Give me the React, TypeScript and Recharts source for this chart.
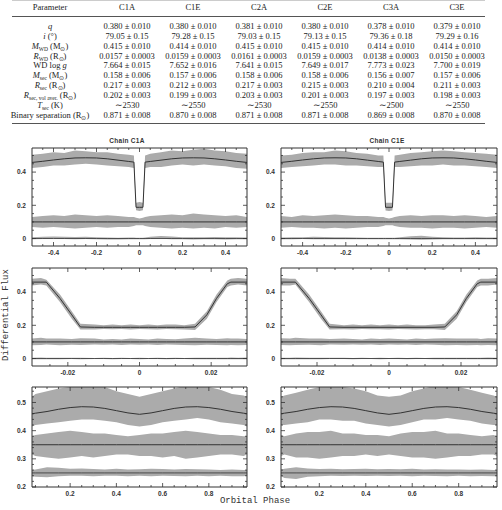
import { ComposedChart, Area, Line, XAxis, YAxis } from 'recharts';

// ---- table ----
const TABLE_HEAD = ['Parameter', 'C1A', 'C1E', 'C2A', 'C2E', 'C3A', 'C3E'];
const TABLE_VALUES = [
  ['0.380 ± 0.010', '0.380 ± 0.010', '0.381 ± 0.010', '0.380 ± 0.010', '0.378 ± 0.010', '0.379 ± 0.010'],
  ['79.05 ± 0.15', '79.28 ± 0.15', '79.03 ± 0.15', '79.13 ± 0.15', '79.36 ± 0.18', '79.29 ± 0.16'],
  ['0.415 ± 0.010', '0.414 ± 0.010', '0.415 ± 0.010', '0.415 ± 0.010', '0.414 ± 0.010', '0.414 ± 0.010'],
  ['0.0157 ± 0.0003', '0.0159 ± 0.0003', '0.0161 ± 0.0003', '0.0159 ± 0.0003', '0.0138 ± 0.0003', '0.0150 ± 0.0003'],
  ['7.664 ± 0.015', '7.652 ± 0.016', '7.641 ± 0.015', '7.649 ± 0.017', '7.773 ± 0.023', '7.700 ± 0.019'],
  ['0.158 ± 0.006', '0.157 ± 0.006', '0.158 ± 0.006', '0.158 ± 0.006', '0.156 ± 0.007', '0.157 ± 0.006'],
  ['0.217 ± 0.003', '0.212 ± 0.003', '0.217 ± 0.003', '0.215 ± 0.003', '0.210 ± 0.004', '0.211 ± 0.003'],
  ['0.202 ± 0.003', '0.199 ± 0.003', '0.203 ± 0.003', '0.201 ± 0.003', '0.197 ± 0.003', '0.198 ± 0.003'],
  ['∼2530', '∼2550', '∼2530', '∼2550', '∼2500', '∼2550'],
  ['0.871 ± 0.008', '0.870 ± 0.008', '0.871 ± 0.008', '0.871 ± 0.008', '0.869 ± 0.008', '0.870 ± 0.008'],
];

// ---- full orbit panels (C1A / C1E) ----
const P1_PHASE = [-0.5, -0.45, -0.4, -0.35, -0.3, -0.25, -0.2, -0.15, -0.1, -0.05, -0.026, -0.016, 0, 0.016, 0.026, 0.05, 0.1, 0.15, 0.2, 0.25, 0.3, 0.35, 0.4, 0.45, 0.5];
const P1_MODEL = [0.458, 0.465, 0.473, 0.48, 0.485, 0.486, 0.485, 0.48, 0.472, 0.464, 0.46, 0.188, 0.188, 0.188, 0.46, 0.464, 0.472, 0.48, 0.485, 0.486, 0.485, 0.48, 0.473, 0.465, 0.458];
const P1A_TOP_HI = [0.505, 0.51, 0.52, 0.515, 0.53, 0.525, 0.52, 0.52, 0.51, 0.505, 0.5, 0.215, 0.22, 0.215, 0.5, 0.51, 0.52, 0.53, 0.525, 0.535, 0.54, 0.53, 0.525, 0.515, 0.51];
const P1A_TOP_LO = [0.425, 0.43, 0.44, 0.44, 0.445, 0.45, 0.445, 0.44, 0.435, 0.43, 0.425, 0.17, 0.165, 0.17, 0.425, 0.43, 0.43, 0.44, 0.445, 0.44, 0.445, 0.44, 0.435, 0.425, 0.42];
const P1A_MID_HI = [0.13, 0.135, 0.14, 0.135, 0.145, 0.14, 0.135, 0.14, 0.135, 0.13, 0.13, 0.125, 0.12, 0.125, 0.13, 0.135, 0.14, 0.145, 0.14, 0.15, 0.145, 0.14, 0.135, 0.14, 0.13];
const P1A_MID_LO = [0.07, 0.065, 0.07, 0.065, 0.06, 0.065, 0.07, 0.065, 0.07, 0.07, 0.075, 0.08, 0.08, 0.08, 0.075, 0.07, 0.065, 0.06, 0.065, 0.06, 0.065, 0.06, 0.07, 0.065, 0.07];
const P1A_RES_HI = [0.008, 0.01, 0.012, 0.01, 0.009, 0.01, 0.008, 0.006, 0.005, 0.006, 0.006, 0.004, 0.004, 0.004, 0.006, 0.01, 0.015, 0.012, 0.008, 0.007, 0.008, 0.009, 0.008, 0.007, 0.006];
const P1A_RES_LO = [-0.004, -0.003, -0.002, -0.003, -0.004, -0.003, -0.005, -0.006, -0.006, -0.005, -0.005, -0.004, -0.004, -0.004, -0.005, -0.003, -0.002, -0.004, -0.005, -0.006, -0.005, -0.005, -0.006, -0.005, -0.005];
const P1E_TOP_HI = [0.5, 0.505, 0.515, 0.52, 0.52, 0.53, 0.525, 0.515, 0.51, 0.5, 0.5, 0.215, 0.215, 0.215, 0.5, 0.505, 0.515, 0.52, 0.525, 0.53, 0.525, 0.52, 0.515, 0.51, 0.505];
const P1E_TOP_LO = [0.425, 0.43, 0.435, 0.44, 0.445, 0.445, 0.44, 0.44, 0.435, 0.43, 0.43, 0.168, 0.165, 0.168, 0.43, 0.43, 0.435, 0.44, 0.44, 0.445, 0.44, 0.44, 0.435, 0.43, 0.425];
const P1E_MID_HI = [0.135, 0.13, 0.14, 0.135, 0.14, 0.145, 0.14, 0.135, 0.135, 0.13, 0.13, 0.125, 0.12, 0.125, 0.13, 0.135, 0.14, 0.135, 0.14, 0.14, 0.135, 0.14, 0.135, 0.13, 0.135];
const P1E_MID_LO = [0.065, 0.07, 0.065, 0.065, 0.06, 0.065, 0.06, 0.065, 0.07, 0.07, 0.075, 0.08, 0.08, 0.08, 0.075, 0.07, 0.065, 0.065, 0.06, 0.065, 0.065, 0.06, 0.065, 0.07, 0.065];
const P1E_RES_HI = [0.006, 0.007, 0.008, 0.01, 0.009, 0.008, 0.007, 0.006, 0.005, 0.005, 0.005, 0.004, 0.004, 0.004, 0.005, 0.008, 0.014, 0.016, 0.01, 0.007, 0.006, 0.006, 0.007, 0.006, 0.006];
const P1E_RES_LO = [-0.004, -0.004, -0.003, -0.004, -0.004, -0.004, -0.005, -0.005, -0.005, -0.005, -0.005, -0.004, -0.004, -0.004, -0.005, -0.004, -0.006, -0.008, -0.006, -0.005, -0.005, -0.005, -0.005, -0.004, -0.005];

// ---- eclipse zoom panels ----
const P2_PHASE = [-0.03, -0.0275, -0.026, -0.0222, -0.0189, -0.0165, -0.0125, -0.01, -0.0075, -0.005, -0.0025, 0, 0.0025, 0.005, 0.0075, 0.01, 0.0125, 0.0155, 0.0188, 0.0215, 0.0245, 0.0255, 0.0275, 0.03];
const P2_MODEL = [0.46, 0.46, 0.46, 0.362, 0.263, 0.19, 0.188, 0.188, 0.188, 0.188, 0.188, 0.188, 0.188, 0.188, 0.188, 0.188, 0.188, 0.19, 0.263, 0.362, 0.45, 0.46, 0.46, 0.46];
const P2A_TOP_HI = [0.48, 0.485, 0.475, 0.385, 0.285, 0.21, 0.205, 0.2, 0.205, 0.2, 0.205, 0.2, 0.205, 0.2, 0.205, 0.205, 0.2, 0.21, 0.285, 0.385, 0.47, 0.48, 0.485, 0.48];
const P2A_TOP_LO = [0.44, 0.445, 0.44, 0.34, 0.24, 0.175, 0.175, 0.178, 0.176, 0.178, 0.175, 0.178, 0.176, 0.175, 0.178, 0.176, 0.175, 0.172, 0.24, 0.34, 0.43, 0.44, 0.445, 0.44];
const P2A_MID_HI = [0.12, 0.125, 0.12, 0.12, 0.118, 0.122, 0.12, 0.115, 0.118, 0.115, 0.12, 0.117, 0.115, 0.12, 0.118, 0.116, 0.12, 0.125, 0.12, 0.118, 0.122, 0.12, 0.12, 0.118];
const P2A_MID_LO = [0.08, 0.082, 0.085, 0.08, 0.083, 0.082, 0.085, 0.083, 0.085, 0.082, 0.085, 0.083, 0.085, 0.082, 0.084, 0.083, 0.082, 0.08, 0.083, 0.082, 0.08, 0.082, 0.08, 0.082];
const P2A_RES_HI = [0.005, 0.006, 0.005, 0.004, 0.005, 0.004, 0.003, 0.004, 0.003, 0.004, 0.003, 0.004, 0.003, 0.004, 0.003, 0.004, 0.003, 0.004, 0.005, 0.004, 0.005, 0.006, 0.005, 0.006];
const P2A_RES_LO = [-0.004, -0.005, -0.004, -0.004, -0.003, -0.004, -0.003, -0.003, -0.004, -0.003, -0.003, -0.004, -0.003, -0.003, -0.004, -0.003, -0.003, -0.004, -0.004, -0.005, -0.004, -0.005, -0.004, -0.005];
const P2E_TOP_HI = [0.485, 0.48, 0.48, 0.385, 0.285, 0.21, 0.2, 0.205, 0.2, 0.205, 0.2, 0.205, 0.2, 0.205, 0.2, 0.2, 0.205, 0.21, 0.285, 0.385, 0.47, 0.48, 0.48, 0.485];
const P2E_TOP_LO = [0.44, 0.44, 0.445, 0.34, 0.24, 0.175, 0.177, 0.175, 0.178, 0.176, 0.177, 0.175, 0.178, 0.176, 0.175, 0.177, 0.176, 0.172, 0.24, 0.34, 0.43, 0.44, 0.44, 0.445];
const P2E_MID_HI = [0.122, 0.12, 0.125, 0.12, 0.12, 0.118, 0.12, 0.118, 0.115, 0.12, 0.117, 0.12, 0.118, 0.115, 0.12, 0.118, 0.12, 0.122, 0.12, 0.12, 0.12, 0.118, 0.122, 0.12];
const P2E_MID_LO = [0.082, 0.08, 0.082, 0.083, 0.08, 0.084, 0.083, 0.085, 0.083, 0.084, 0.082, 0.085, 0.083, 0.084, 0.082, 0.085, 0.083, 0.08, 0.082, 0.08, 0.082, 0.08, 0.082, 0.08];
const P2E_RES_HI = [0.005, 0.005, 0.006, 0.004, 0.005, 0.004, 0.004, 0.003, 0.004, 0.003, 0.004, 0.003, 0.004, 0.003, 0.004, 0.003, 0.004, 0.004, 0.005, 0.005, 0.005, 0.005, 0.006, 0.005];
const P2E_RES_LO = [-0.005, -0.004, -0.004, -0.004, -0.004, -0.003, -0.003, -0.004, -0.003, -0.003, -0.004, -0.003, -0.003, -0.004, -0.003, -0.003, -0.004, -0.004, -0.004, -0.004, -0.005, -0.004, -0.005, -0.004];

// ---- out-of-eclipse panels ----
const P3_PHASE = [0.035, 0.05, 0.1, 0.15, 0.2, 0.25, 0.3, 0.35, 0.4, 0.45, 0.5, 0.55, 0.6, 0.65, 0.7, 0.75, 0.8, 0.85, 0.9, 0.95, 0.965];
const P3_MODEL = [0.46, 0.462, 0.468, 0.476, 0.482, 0.485, 0.484, 0.479, 0.471, 0.463, 0.458, 0.463, 0.471, 0.479, 0.484, 0.485, 0.482, 0.476, 0.468, 0.462, 0.46];
const P3A_TOP_HI = [0.52, 0.53, 0.54, 0.55, 0.555, 0.56, 0.56, 0.555, 0.54, 0.53, 0.52, 0.53, 0.54, 0.55, 0.56, 0.56, 0.555, 0.545, 0.53, 0.525, 0.52];
const P3A_TOP_LO = [0.415, 0.42, 0.425, 0.43, 0.435, 0.44, 0.44, 0.435, 0.43, 0.42, 0.415, 0.42, 0.43, 0.435, 0.44, 0.445, 0.44, 0.43, 0.425, 0.42, 0.415];
const P3A_MID_HI = [0.38, 0.385, 0.39, 0.395, 0.4, 0.395, 0.39, 0.39, 0.385, 0.38, 0.385, 0.39, 0.39, 0.395, 0.4, 0.395, 0.39, 0.385, 0.385, 0.38, 0.38];
const P3A_MID_LO = [0.315, 0.31, 0.305, 0.3, 0.305, 0.31, 0.305, 0.31, 0.315, 0.315, 0.31, 0.31, 0.305, 0.31, 0.3, 0.305, 0.31, 0.315, 0.315, 0.31, 0.315];
const P3A_RES_HI = [0.26, 0.262, 0.27, 0.268, 0.265, 0.266, 0.264, 0.262, 0.265, 0.262, 0.263, 0.265, 0.264, 0.262, 0.264, 0.263, 0.262, 0.26, 0.262, 0.26, 0.26];
const P3A_RES_LO = [0.238, 0.236, 0.235, 0.238, 0.24, 0.24, 0.238, 0.24, 0.24, 0.238, 0.24, 0.238, 0.24, 0.239, 0.238, 0.24, 0.238, 0.24, 0.238, 0.238, 0.24];
const P3E_TOP_HI = [0.52, 0.525, 0.535, 0.545, 0.555, 0.56, 0.555, 0.55, 0.54, 0.525, 0.52, 0.525, 0.54, 0.55, 0.56, 0.56, 0.555, 0.545, 0.535, 0.525, 0.52];
const P3E_TOP_LO = [0.42, 0.42, 0.425, 0.43, 0.44, 0.44, 0.435, 0.435, 0.425, 0.42, 0.415, 0.42, 0.43, 0.44, 0.44, 0.445, 0.44, 0.435, 0.425, 0.42, 0.42];
const P3E_MID_HI = [0.385, 0.38, 0.39, 0.395, 0.395, 0.4, 0.39, 0.39, 0.385, 0.385, 0.38, 0.39, 0.395, 0.395, 0.4, 0.39, 0.39, 0.385, 0.38, 0.385, 0.38];
const P3E_MID_LO = [0.31, 0.315, 0.305, 0.305, 0.3, 0.305, 0.31, 0.31, 0.315, 0.31, 0.315, 0.31, 0.305, 0.305, 0.3, 0.305, 0.31, 0.31, 0.315, 0.315, 0.31];
const P3E_RES_HI = [0.262, 0.265, 0.27, 0.266, 0.264, 0.265, 0.263, 0.264, 0.265, 0.263, 0.264, 0.263, 0.265, 0.262, 0.263, 0.262, 0.262, 0.261, 0.262, 0.26, 0.26];
const P3E_RES_LO = [0.238, 0.232, 0.228, 0.236, 0.238, 0.24, 0.239, 0.24, 0.239, 0.24, 0.239, 0.24, 0.238, 0.24, 0.239, 0.238, 0.24, 0.238, 0.239, 0.238, 0.238];

// offsets of the residual tracks
const P12_MID_LEVEL = 0.1;
const P12_RES_LEVEL = 0;
const P3_MID_LEVEL = 0.35;
const P3_RES_LEVEL = 0.25;

// ticks
const P1_XTICKS = [-0.45, -0.4, -0.35, -0.3, -0.25, -0.2, -0.15, -0.1, -0.05, 0, 0.05, 0.1, 0.15, 0.2, 0.25, 0.3, 0.35, 0.4, 0.45];
const P1_XMAJOR = [-0.4, -0.2, 0, 0.2, 0.4];
const P2_XTICKS = [-0.025, -0.02, -0.015, -0.01, -0.005, 0, 0.005, 0.01, 0.015, 0.02, 0.025];
const P2_XMAJOR = [-0.02, 0, 0.02];
const P3_XTICKS = [0.05, 0.1, 0.15, 0.2, 0.25, 0.3, 0.35, 0.4, 0.45, 0.5, 0.55, 0.6, 0.65, 0.7, 0.75, 0.8, 0.85, 0.9, 0.95];
const P3_XMAJOR = [0.2, 0.4, 0.6, 0.8];
const P12_YTICKS = [0, 0.05, 0.1, 0.15, 0.2, 0.25, 0.3, 0.35, 0.4, 0.45, 0.5];
const P12_YMAJOR = [0, 0.2, 0.4];
const P3_YTICKS = [0.2, 0.22, 0.24, 0.26, 0.28, 0.3, 0.32, 0.34, 0.36, 0.38, 0.4, 0.42, 0.44, 0.46, 0.48, 0.5, 0.52, 0.54];
const P3_YMAJOR = [0.2, 0.3, 0.4, 0.5];

const INK = '#333';
const GREY = '#ababab';
const TICK_FONT = "'Liberation Sans', Arial, sans-serif";

function buildRows(phase, model, topHi, topLo, midLevel, midHi, midLo, resLevel, resHi, resLo) {
  return phase.map((x, i) => ({
    x,
    model: model[i],
    topBand: [topLo[i], topHi[i]],
    mid: midLevel,
    midBand: [midLo[i], midHi[i]],
    res: resLevel,
    resBand: [resLo[i], resHi[i]],
  }));
}

// ticks point inwards; labels only on the bottom / left axes
function makeTick(side, majors) {
  return (props) => {
    const { x, y, payload } = props;
    const v = payload.value;
    const major = majors.some((m) => Math.abs(m - v) < 1e-9);
    const len = major ? 4 : 2;
    let line = null;
    let label = null;
    if (side === 'bottom') {
      line = <line x1={x} y1={y} x2={x} y2={y - len} stroke={INK} strokeWidth={0.8} />;
      if (major) label = <text x={x} y={y + 9} textAnchor="middle" fontSize={6.5} fontWeight="bold" fill={INK} fontFamily={TICK_FONT}>{String(v)}</text>;
    } else if (side === 'top') {
      line = <line x1={x} y1={y} x2={x} y2={y + len} stroke={INK} strokeWidth={0.8} />;
    } else if (side === 'left') {
      line = <line x1={x} y1={y} x2={x + len} y2={y} stroke={INK} strokeWidth={0.8} />;
      if (major) label = <text x={x - 6} y={y + 2.3} textAnchor="end" fontSize={6.5} fontWeight="bold" fill={INK} fontFamily={TICK_FONT}>{String(v)}</text>;
    } else {
      line = <line x1={x} y1={y} x2={x - len} y2={y} stroke={INK} strokeWidth={0.8} />;
    }
    return <g>{line}{label}</g>;
  };
}

function Panel({ rows, width, height, margin, xDomain, xTicks, xMajor, yDomain, yTicks, yMajor }) {
  const axisLine = { stroke: INK, strokeWidth: 1 };
  return (
    <ComposedChart width={width} height={height} data={rows} margin={margin}>
      <XAxis xAxisId="b" dataKey="x" type="number" domain={xDomain} ticks={xTicks} interval={0} height={1}
        tickSize={0} tickMargin={0} tickLine={false} axisLine={axisLine} tick={makeTick('bottom', xMajor)} allowDataOverflow />
      <XAxis xAxisId="t" orientation="top" dataKey="x" type="number" domain={xDomain} ticks={xTicks} interval={0} height={1}
        tickSize={0} tickMargin={0} tickLine={false} axisLine={axisLine} tick={makeTick('top', xMajor)} allowDataOverflow />
      <YAxis yAxisId="l" type="number" domain={yDomain} ticks={yTicks} interval={0} width={1}
        tickSize={0} tickMargin={0} tickLine={false} axisLine={axisLine} tick={makeTick('left', yMajor)} allowDataOverflow />
      <YAxis yAxisId="r" orientation="right" type="number" domain={yDomain} ticks={yTicks} interval={0} width={1}
        tickSize={0} tickMargin={0} tickLine={false} axisLine={axisLine} tick={makeTick('right', yMajor)} allowDataOverflow />
      <Area xAxisId="b" yAxisId="l" type="linear" dataKey="topBand" fill={GREY} fillOpacity={1} stroke="none" isAnimationActive={false} />
      <Area xAxisId="b" yAxisId="l" type="linear" dataKey="midBand" fill={GREY} fillOpacity={1} stroke="none" isAnimationActive={false} />
      <Area xAxisId="b" yAxisId="l" type="linear" dataKey="resBand" fill={GREY} fillOpacity={1} stroke="none" isAnimationActive={false} />
      <Line xAxisId="b" yAxisId="l" type="linear" dataKey="model" stroke={INK} strokeWidth={1} dot={false} activeDot={false} isAnimationActive={false} />
      <Line xAxisId="b" yAxisId="l" type="linear" dataKey="mid" stroke={INK} strokeWidth={1} dot={false} activeDot={false} isAnimationActive={false} />
      <Line xAxisId="b" yAxisId="l" type="linear" dataKey="res" stroke={INK} strokeWidth={0.8} dot={false} activeDot={false} isAnimationActive={false} />
    </ComposedChart>
  );
}

// margins already leave 1px for each axis box
const LEFT = { left: 0, width: 260, ml: 31, mr: 12 };
const RIGHT = { left: 250, width: 252, ml: 30, mr: 4 };
const ROWS = [
  { top: 140, height: 120, mt: 7, mb: 13 },
  { top: 262, height: 118, mt: 5, mb: 13 },
  { top: 381, height: 120, mt: 5, mb: 13 },
];

const PANELS = [
  { col: LEFT, row: 0, rows: buildRows(P1_PHASE, P1_MODEL, P1A_TOP_HI, P1A_TOP_LO, P12_MID_LEVEL, P1A_MID_HI, P1A_MID_LO, P12_RES_LEVEL, P1A_RES_HI, P1A_RES_LO), xDomain: [-0.5, 0.5], xTicks: P1_XTICKS, xMajor: P1_XMAJOR, yDomain: [-0.045, 0.545], yTicks: P12_YTICKS, yMajor: P12_YMAJOR },
  { col: RIGHT, row: 0, rows: buildRows(P1_PHASE, P1_MODEL, P1E_TOP_HI, P1E_TOP_LO, P12_MID_LEVEL, P1E_MID_HI, P1E_MID_LO, P12_RES_LEVEL, P1E_RES_HI, P1E_RES_LO), xDomain: [-0.5, 0.5], xTicks: P1_XTICKS, xMajor: P1_XMAJOR, yDomain: [-0.045, 0.545], yTicks: P12_YTICKS, yMajor: P12_YMAJOR },
  { col: LEFT, row: 1, rows: buildRows(P2_PHASE, P2_MODEL, P2A_TOP_HI, P2A_TOP_LO, P12_MID_LEVEL, P2A_MID_HI, P2A_MID_LO, P12_RES_LEVEL, P2A_RES_HI, P2A_RES_LO), xDomain: [-0.03, 0.03], xTicks: P2_XTICKS, xMajor: P2_XMAJOR, yDomain: [-0.045, 0.545], yTicks: P12_YTICKS, yMajor: P12_YMAJOR },
  { col: RIGHT, row: 1, rows: buildRows(P2_PHASE, P2_MODEL, P2E_TOP_HI, P2E_TOP_LO, P12_MID_LEVEL, P2E_MID_HI, P2E_MID_LO, P12_RES_LEVEL, P2E_RES_HI, P2E_RES_LO), xDomain: [-0.03, 0.03], xTicks: P2_XTICKS, xMajor: P2_XMAJOR, yDomain: [-0.045, 0.545], yTicks: P12_YTICKS, yMajor: P12_YMAJOR },
  { col: LEFT, row: 2, rows: buildRows(P3_PHASE, P3_MODEL, P3A_TOP_HI, P3A_TOP_LO, P3_MID_LEVEL, P3A_MID_HI, P3A_MID_LO, P3_RES_LEVEL, P3A_RES_HI, P3A_RES_LO), xDomain: [0.035, 0.965], xTicks: P3_XTICKS, xMajor: P3_XMAJOR, yDomain: [0.2, 0.555], yTicks: P3_YTICKS, yMajor: P3_YMAJOR },
  { col: RIGHT, row: 2, rows: buildRows(P3_PHASE, P3_MODEL, P3E_TOP_HI, P3E_TOP_LO, P3_MID_LEVEL, P3E_MID_HI, P3E_MID_LO, P3_RES_LEVEL, P3E_RES_HI, P3E_RES_LO), xDomain: [0.035, 0.965], xTicks: P3_XTICKS, xMajor: P3_XMAJOR, yDomain: [0.2, 0.555], yTicks: P3_YTICKS, yMajor: P3_YMAJOR },
];

const COL_CENTERS = [50, 127, 193, 259, 325, 391, 457];
const SERIF = "'Liberation Serif', 'Times New Roman', serif";
const SUB = { fontSize: '5.5px', verticalAlign: '-1.5px', lineHeight: 0 };

const ROW_LABELS = [
  <i>q</i>,
  <><i>i</i> (°)</>,
  <><i>M</i><span style={SUB}>WD</span> (M<span style={SUB}>⊙</span>)</>,
  <><i>R</i><span style={SUB}>WD</span> (R<span style={SUB}>⊙</span>)</>,
  <>WD log <i>g</i></>,
  <><i>M</i><span style={SUB}>sec</span> (M<span style={SUB}>⊙</span>)</>,
  <><i>R</i><span style={SUB}>sec</span> (R<span style={SUB}>⊙</span>)</>,
  <><i>R</i><span style={SUB}>sec, vol aver.</span> (R<span style={SUB}>⊙</span>)</>,
  <><i>T</i><span style={SUB}>sec</span> (K)</>,
  <>Binary separation (R<span style={SUB}>⊙</span>)</>,
];

function Cell({ cx, cy, w, children }) {
  return (
    <div style={{ position: 'absolute', left: cx - w / 2, top: cy - 5, width: w, height: 10, lineHeight: '10px', textAlign: 'center', whiteSpace: 'nowrap' }}>
      {children}
    </div>
  );
}

function ParamTable() {
  const rowY = (i) => 26 + i * 9.85;
  return (
    <div style={{ position: 'absolute', left: 0, top: 0, width: 502, height: 130, fontFamily: SERIF, fontSize: '8.5px', color: '#222' }}>
      <div style={{ position: 'absolute', left: 12, top: 0, width: 473, height: 1, background: '#ccc' }} />
      {TABLE_HEAD.map((h, c) => (
        <Cell key={h} cx={COL_CENTERS[c]} cy={7} w={c === 0 ? 96 : 66}>{h}</Cell>
      ))}
      <div style={{ position: 'absolute', left: 12, top: 15.5, width: 473, height: 1, background: '#555' }} />
      {ROW_LABELS.map((lab, r) => (
        <Cell key={'l' + r} cx={COL_CENTERS[0]} cy={rowY(r)} w={96}>{lab}</Cell>
      ))}
      {TABLE_VALUES.map((vals, r) =>
        vals.map((v, c) => (
          <Cell key={r + '-' + c} cx={COL_CENTERS[c + 1]} cy={rowY(r)} w={66}>{v}</Cell>
        ))
      )}
      <div style={{ position: 'absolute', left: 12, top: 122.5, width: 473, height: 1, background: '#555' }} />
    </div>
  );
}

export default function App() {
  const mono = "'Liberation Mono', 'Courier New', monospace";
  return (
    <div style={{ position: 'absolute', left: 0, top: 0, width: 502, height: 510, background: '#fff', overflow: 'hidden' }}>
      <ParamTable />
      <div style={{ position: 'absolute', left: 77, top: 137, width: 100, textAlign: 'center', fontFamily: TICK_FONT, fontWeight: 'bold', fontSize: '6.5px', color: INK, letterSpacing: '0.3px' }}>Chain C1A</div>
      <div style={{ position: 'absolute', left: 337, top: 137, width: 100, textAlign: 'center', fontFamily: TICK_FONT, fontWeight: 'bold', fontSize: '6.5px', color: INK, letterSpacing: '0.3px' }}>Chain C1E</div>
      {PANELS.map((p, i) => {
        const row = ROWS[p.row];
        return (
          <div key={i} style={{ position: 'absolute', left: p.col.left, top: row.top, width: p.col.width, height: row.height }}>
            <Panel
              rows={p.rows}
              width={p.col.width}
              height={row.height}
              margin={{ top: row.mt, right: p.col.mr, bottom: row.mb, left: p.col.ml }}
              xDomain={p.xDomain}
              xTicks={p.xTicks}
              xMajor={p.xMajor}
              yDomain={p.yDomain}
              yTicks={p.yTicks}
              yMajor={p.yMajor}
            />
          </div>
        );
      })}
      <div style={{ position: 'absolute', left: 6, top: 315, transform: 'translate(-50%, -50%) rotate(-90deg)', whiteSpace: 'nowrap', fontFamily: mono, fontSize: '9px', color: INK }}>
        Differential Flux
      </div>
      <div style={{ position: 'absolute', left: 205, top: 496, width: 100, textAlign: 'center', fontFamily: mono, fontSize: '9px', color: INK }}>
        Orbital Phase
      </div>
    </div>
  );
}
